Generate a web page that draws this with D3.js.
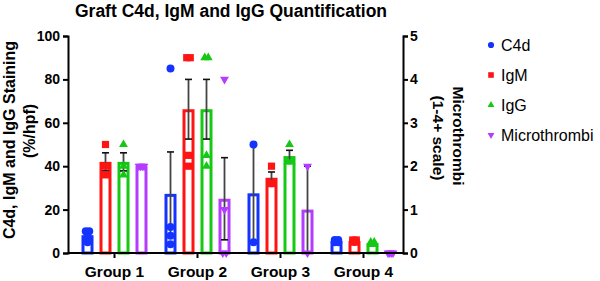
<!DOCTYPE html>
<html>
<head>
<meta charset="utf-8">
<script src="https://cdn.jsdelivr.net/npm/d3@7"></script>
<style>
  body { margin: 0; background: #fff; }
  svg { display: block; font-family: "Liberation Sans", Arial, sans-serif; }
</style>
</head>
<body>
<svg id="chart" width="600" height="281"></svg>
<script>
// individual values per group
const groups = ["Group 1", "Group 2", "Group 3", "Group 4"];
const series = ["C4d", "IgM", "IgG", "Microthrombi"];
const c4dPoints   = [[10, 10, 9, 7, 5], [85, 12, 8, 4], [50, 5], [6, 6, 5, 5]];
const igmPoints   = [[50, 40, 36], [90, 90, 45, 40], [40, 32, 32], [6, 6, 5, 5]];
const iggPoints   = [[50, 40, 36], [90, 90, 45, 40], [50, 42, 42], [5, 5, 4, 4]];
const microPoints = [[2, 2, 2, 2], [4, 1, 0, 0], [2, 0], [0, 0, 0, 0]];
const leftTicks = [0, 20, 40, 60, 80, 100];
const rightTicks = [0, 1, 2, 3, 4, 5];

const colors = { C4d: "#1433ff", IgM: "#ff1414", IgG: "#14c814", Microthrombi: "#b43cff" };
const shapes = {
  C4d: { type: d3.symbolCircle, size: 50, rot: 0 },
  IgM: { type: d3.symbolSquare, size: 52, rot: 0 },
  IgG: { type: d3.symbolTriangle, size: 34, rot: 0 },
  Microthrombi: { type: d3.symbolTriangle, size: 34, rot: 180 }
};
const pointSets = { C4d: c4dPoints, IgM: igmPoints, IgG: iggPoints, Microthrombi: microPoints };

const svg = d3.select("#chart");
const axL = 68, axR = 403, y0 = 253, yTop = 36;

const x = d3.scaleBand().domain(groups).range([73, 405]);
const xs = d3.scalePoint().domain(series).range([-27, 27]);
const yL = d3.scaleLinear().domain([0, 100]).range([y0, yTop]);
const yR = d3.scaleLinear().domain([0, 5]).range([y0, yTop]);
const yOf = s => s === "Microthrombi" ? yR : yL;

// summary rows: mean ± SEM
const rows = [];
series.forEach(s => groups.forEach((g, i) => {
  const pts = pointSets[s][i];
  const mean = d3.mean(pts);
  const sem = d3.deviation(pts) / Math.sqrt(pts.length);
  rows.push({ s, g, pts, mean, sem });
}));

const bw = 12, sw = 3;
const cx = d => x(d.g) + x.bandwidth() / 2 + xs(d.s);

// bars
svg.append("g").selectAll("rect").data(rows.filter(d => d.mean > 0)).join("rect")
  .attr("x", d => cx(d) - bw / 2 + sw / 2)
  .attr("width", bw - sw)
  .attr("y", d => yOf(d.s)(d.mean) + sw / 2)
  .attr("height", d => Math.max(0, y0 - yOf(d.s)(d.mean) - sw / 2))
  .attr("fill", "#fff")
  .attr("stroke", d => colors[d.s])
  .attr("stroke-width", sw);

// error bars
const lo = d => Math.max(0, d.mean - d.sem), hi = d => d.mean + d.sem;
const eb = svg.append("g").selectAll("g").data(rows.filter(d => d.sem > 0)).join("g");
eb.append("line")
  .attr("x1", cx).attr("x2", cx)
  .attr("y1", d => yOf(d.s)(hi(d)))
  .attr("y2", d => yOf(d.s)(lo(d)))
  .attr("stroke", "#444").attr("stroke-width", 1.8);
[hi, lo].forEach(f => {
  eb.append("line")
    .attr("x1", d => cx(d) - 3.5).attr("x2", d => cx(d) + 3.5)
    .attr("y1", d => yOf(d.s)(f(d)))
    .attr("y2", d => yOf(d.s)(f(d)))
    .attr("stroke", "#111").attr("stroke-width", 1.6);
});

// scatter points, equal values spread sideways
const pts = [];
rows.forEach(d => {
  const counts = d3.rollup(d.pts, v => v.length, v => v);
  const seen = new Map();
  d.pts.forEach(v => {
    const n = counts.get(v), k = seen.get(v) || 0;
    seen.set(v, k + 1);
    const step = n > 1 ? Math.min(3.5, 5 / (n - 1)) : 0;
    pts.push({ s: d.s, v, px: cx(d) + (k - (n - 1) / 2) * step });
  });
});
svg.append("g").selectAll("path").data(pts).join("path")
  .attr("d", d => d3.symbol(shapes[d.s].type, shapes[d.s].size)())
  .attr("transform", d => `translate(${d.px},${yOf(d.s)(d.v)}) rotate(${shapes[d.s].rot})`)
  .attr("fill", d => colors[d.s]);

// axes
const styleAxis = g => {
  g.selectAll("path, line").attr("stroke", "#000").attr("stroke-width", 2);
  g.selectAll("text").attr("font-size", 14).attr("font-weight", "bold").attr("fill", "#000");
};
svg.append("g").attr("transform", `translate(${axL},0)`)
  .call(d3.axisLeft(yL).tickValues(leftTicks).tickSize(5).tickPadding(3).tickSizeOuter(5))
  .call(styleAxis);
svg.append("g").attr("transform", `translate(${axR},0)`)
  .call(d3.axisRight(yR).tickValues(rightTicks).tickFormat(d3.format("d")).tickSize(5).tickPadding(2).tickSizeOuter(5))
  .call(styleAxis);
const xa = svg.append("g").attr("transform", `translate(0,${y0})`)
  .call(d3.axisBottom(x).tickSize(5).tickPadding(8).tickSizeOuter(0))
  .call(styleAxis);
xa.select(".domain").attr("d", `M${axL},0H${axR}`);
xa.selectAll("text").attr("font-size", 15.5);

// titles
svg.append("text").attr("x", 231).attr("y", 17).attr("text-anchor", "middle")
  .attr("font-size", 17.5).attr("font-weight", "bold").text("Graft C4d, IgM and IgG Quantification");
svg.append("text").attr("transform", "translate(15,140) rotate(-90)").attr("text-anchor", "middle")
  .attr("font-size", 16).attr("font-weight", "bold").text("C4d, IgM and IgG Staining");
svg.append("text").attr("transform", "translate(35,131) rotate(-90)").attr("text-anchor", "middle")
  .attr("font-size", 16).attr("font-weight", "bold").text("(%/hpf)");
svg.append("text").attr("transform", "translate(453,136) rotate(90)").attr("text-anchor", "middle")
  .attr("font-size", 15.5).attr("font-weight", "bold").text("Microthrombi");
svg.append("text").attr("transform", "translate(433,138) rotate(90)").attr("text-anchor", "middle")
  .attr("font-size", 15.5).attr("font-weight", "bold").text("(1-4+ scale)");

// legend
const lg = svg.append("g").selectAll("g").data(series).join("g")
  .attr("transform", (d, i) => `translate(491,${45 + i * 30})`);
lg.append("path")
  .attr("d", d => d3.symbol(shapes[d].type, shapes[d].size * 0.6)())
  .attr("transform", d => `rotate(${shapes[d].rot})`)
  .attr("fill", d => colors[d]);
lg.append("text").attr("x", 10).attr("y", 5.5).attr("font-size", 16).text(d => d);
</script>
</body>
</html>
